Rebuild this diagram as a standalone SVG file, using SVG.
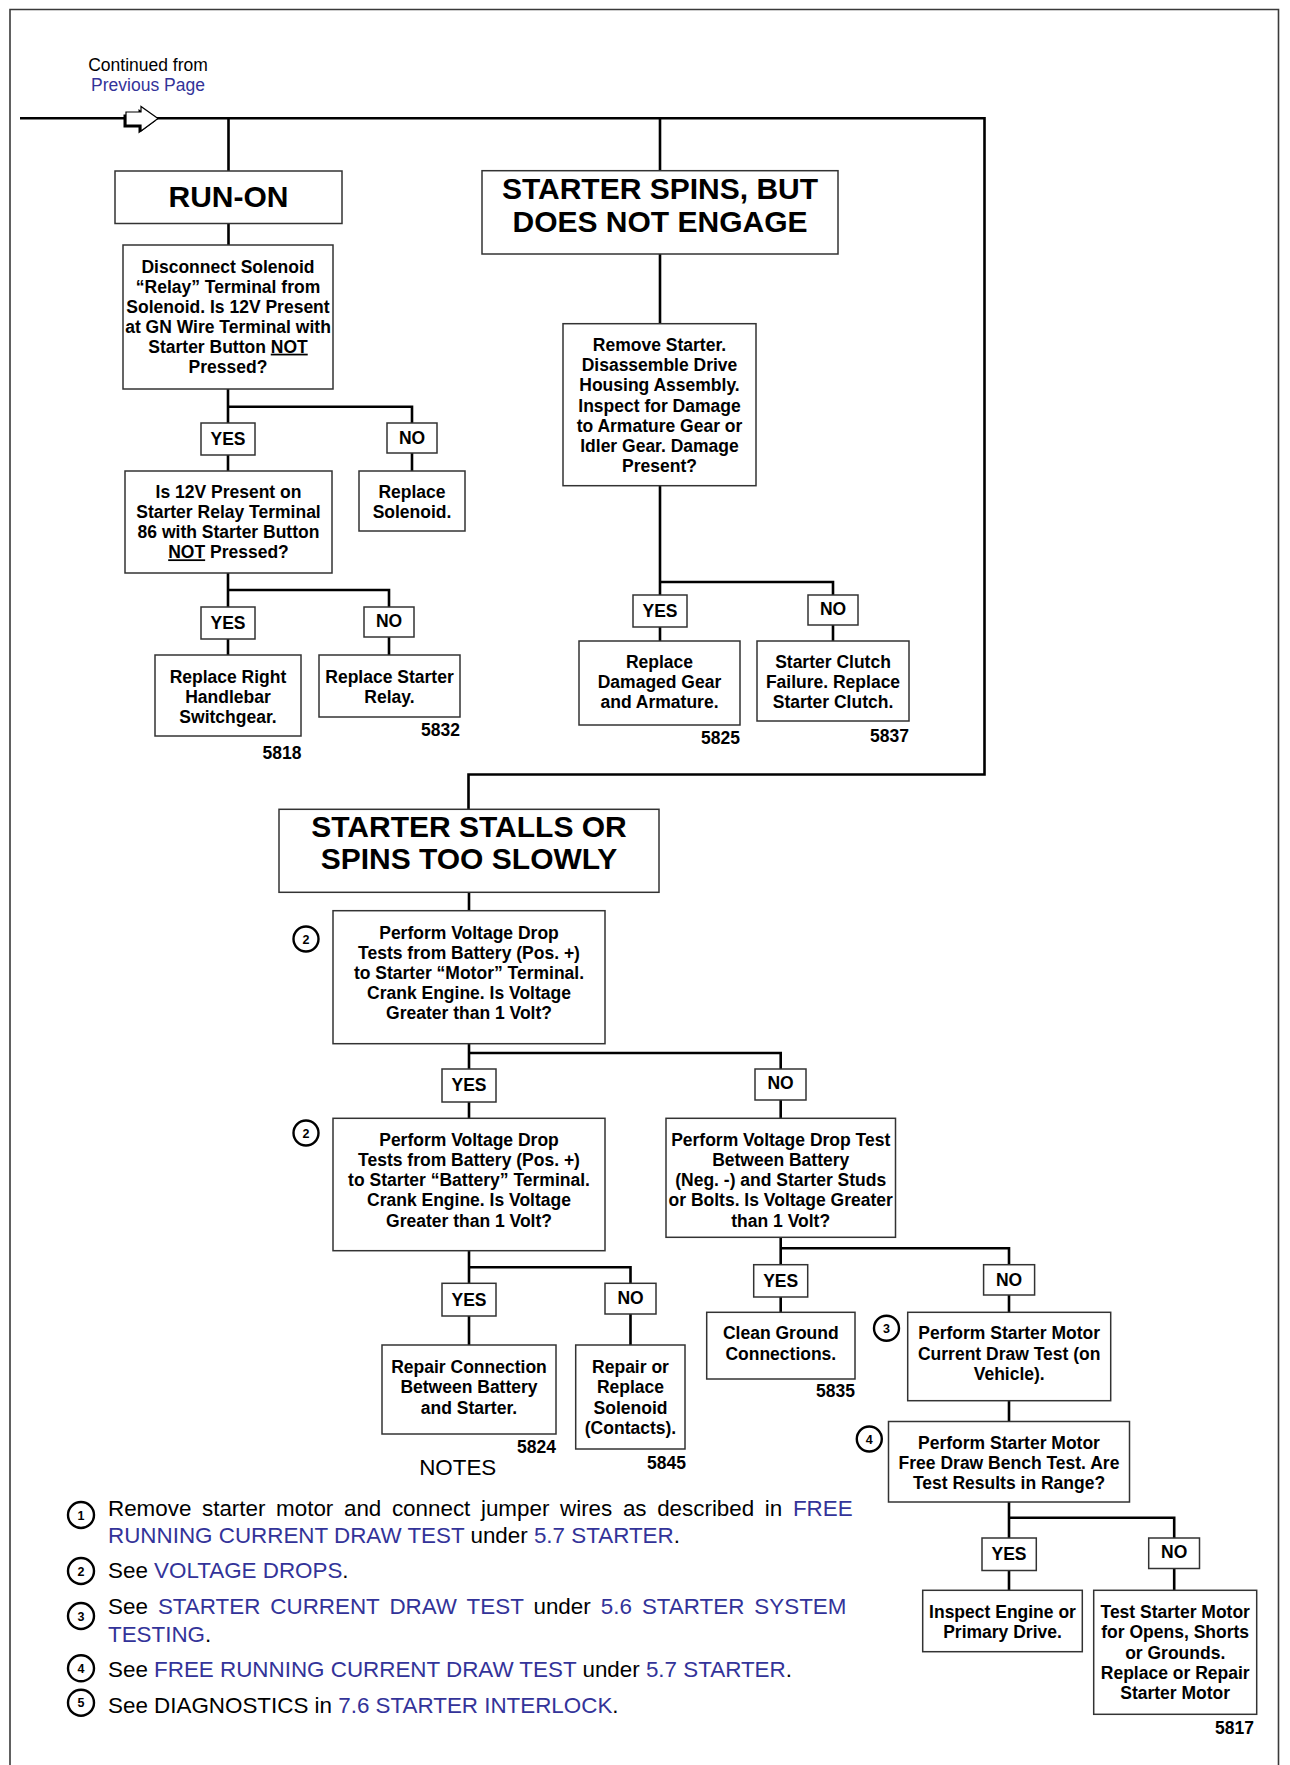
<svg xmlns="http://www.w3.org/2000/svg" width="1290" height="1765" viewBox="0 0 1290 1765">
<style>
.bg{fill:#fff}
.frame{fill:none;stroke:#3a3a3a;stroke-width:1.6}
.box{fill:#fff;stroke:#333;stroke-width:1.5}
.conn{fill:none;stroke:#000;stroke-width:2.6}
text{font-family:"Liberation Sans",Arial,Helvetica,sans-serif;fill:#000}
.t{font-weight:bold;font-size:17.5px;text-anchor:middle}
.title{font-weight:bold;font-size:30px;text-anchor:middle}
.num{font-weight:bold;font-size:17.5px;text-anchor:end}
.note{font-size:22.4px}
.link{fill:#333399}
.cont{font-size:17.5px;text-anchor:middle}
.circ{fill:#fff;stroke:#000;stroke-width:2.4}
.cn{font-weight:bold;font-size:12.5px;text-anchor:middle}
</style>
<rect class="bg" x="0" y="0" width="1290" height="1765"/>
<path class="frame" d="M10,1765 V9.5 H1278.5 V1765"/>

<g id="continued">
<text class="cont" x="148" y="71">Continued from</text>
<text class="cont link" x="148" y="90.7">Previous Page</text>
</g>

<g id="connectors">
<path class="conn" d="M20,118.3 H984.5 V774.5 H468.5 V809.3"/>
<path class="conn" d="M228.5,118.3 V171 M228.5,223.5 V245"/>
<path class="conn" d="M228,389 V423 M228,406.7 H412 V423 M228,455 V471 M412,453 V471"/>
<path class="conn" d="M228,573 V607 M228,590 H389 V607 M228,639 V655 M389,637 V655"/>
<path class="conn" d="M660,118.3 V170.7 M660,254 V323.7 M660,485.7 V595 M660,582 H833 V595 M660,627 V641 M833,625 V641"/>
<path class="conn" d="M469,892.3 V910.7 M469,1043.7 V1069 M469,1053 H780.7 V1069 M469,1102 V1118.3 M780.7,1100 V1118.3"/>
<path class="conn" d="M469,1250.7 V1283.3 M469,1267.3 H630.5 V1283.3 M469,1316 V1345 M630.5,1314 V1345"/>
<path class="conn" d="M780.7,1237.3 V1264.7 M780.7,1248.3 H1009 V1264.7 M780.7,1297 V1312.3 M1009,1295 V1312.3 M1009,1400.7 V1421.5 M1009,1502 V1538 M1009,1517.7 H1174.2 V1538 M1009,1570.5 V1590.3 M1174.2,1568.5 V1590.3"/>
</g>

<g id="arrow">
<polygon fill="#000" points="123.5,114.5 138.5,114.5 138.5,109 155.5,121 138.5,133.5 138.5,127.5 123.5,127.5"/>
<polygon fill="#fff" stroke="#000" stroke-width="1.2" points="126,112 141,112 141,106.5 158,118.5 141,131 141,125 126,125"/>
</g>

<g id="run-on">
<rect class="box" x="115" y="171" width="227" height="52.5"/>
<text class="title" x="228.5" y="207">RUN-ON</text>
</g>

<g id="disconnect">
<rect class="box" x="123" y="245" width="210" height="144"/>
<text class="t" x="228" y="272.7">Disconnect Solenoid</text>
<text class="t" x="228" y="292.7">“Relay” Terminal from</text>
<text class="t" x="228" y="312.7">Solenoid. Is 12V Present</text>
<text class="t" x="228" y="332.7">at GN Wire Terminal with</text>
<text class="t" x="228" y="352.7">Starter Button <tspan text-decoration="underline">NOT</tspan></text>
<text class="t" x="228" y="372.7">Pressed?</text>
</g>

<g id="yes-a"><rect class="box" x="201" y="423" width="54" height="32"/><text class="t" x="228" y="445">YES</text></g>
<g id="no-a"><rect class="box" x="387" y="423" width="50" height="30"/><text class="t" x="412" y="444">NO</text></g>

<g id="is12v">
<rect class="box" x="125" y="471" width="207" height="102"/>
<text class="t" x="228.5" y="498.3">Is 12V Present on</text>
<text class="t" x="228.5" y="518.3">Starter Relay Terminal</text>
<text class="t" x="228.5" y="538.3">86 with Starter Button</text>
<text class="t" x="228.5" y="558.3"><tspan text-decoration="underline">NOT</tspan> Pressed?</text>
</g>

<g id="replace-solenoid">
<rect class="box" x="359" y="471" width="106" height="60"/>
<text class="t" x="412" y="498.3">Replace</text>
<text class="t" x="412" y="518.3">Solenoid.</text>
</g>

<g id="yes-b"><rect class="box" x="201" y="607" width="54" height="32"/><text class="t" x="228" y="628.5">YES</text></g>
<g id="no-b"><rect class="box" x="364" y="607" width="50" height="30"/><text class="t" x="389" y="627">NO</text></g>

<g id="replace-right">
<rect class="box" x="155" y="655" width="146" height="81"/>
<text class="t" x="228" y="683.3">Replace Right</text>
<text class="t" x="228" y="703.3">Handlebar</text>
<text class="t" x="228" y="723.3">Switchgear.</text>
<text class="num" x="301.5" y="759">5818</text>
</g>

<g id="replace-relay">
<rect class="box" x="319" y="655" width="141" height="62"/>
<text class="t" x="389.5" y="683.3">Replace Starter</text>
<text class="t" x="389.5" y="703.3">Relay.</text>
<text class="num" x="460" y="736">5832</text>
</g>

<g id="spins">
<rect class="box" x="482" y="170.7" width="356" height="83.3"/>
<text class="title" x="660" y="199">STARTER SPINS, BUT</text>
<text class="title" x="660" y="231.7">DOES NOT ENGAGE</text>
</g>

<g id="remove-starter">
<rect class="box" x="563" y="323.7" width="193" height="162"/>
<text class="t" x="659.5" y="351">Remove Starter.</text>
<text class="t" x="659.5" y="371.2">Disassemble Drive</text>
<text class="t" x="659.5" y="391.3">Housing Assembly.</text>
<text class="t" x="659.5" y="411.5">Inspect for Damage</text>
<text class="t" x="659.5" y="431.6">to Armature Gear or</text>
<text class="t" x="659.5" y="451.8">Idler Gear. Damage</text>
<text class="t" x="659.5" y="471.9">Present?</text>
</g>

<g id="yes-c"><rect class="box" x="633" y="595" width="54" height="32"/><text class="t" x="660" y="617">YES</text></g>
<g id="no-c"><rect class="box" x="808" y="595" width="50" height="30"/><text class="t" x="833" y="615">NO</text></g>

<g id="replace-gear">
<rect class="box" x="579" y="641" width="161" height="84"/>
<text class="t" x="659.5" y="668">Replace</text>
<text class="t" x="659.5" y="688">Damaged Gear</text>
<text class="t" x="659.5" y="708">and Armature.</text>
<text class="num" x="740" y="744">5825</text>
</g>

<g id="clutch">
<rect class="box" x="757" y="641" width="152" height="80"/>
<text class="t" x="833" y="668">Starter Clutch</text>
<text class="t" x="833" y="688">Failure. Replace</text>
<text class="t" x="833" y="708">Starter Clutch.</text>
<text class="num" x="909" y="742">5837</text>
</g>

<g id="stalls">
<rect class="box" x="279" y="809.3" width="380" height="83"/>
<text class="title" x="469" y="836.7">STARTER STALLS OR</text>
<text class="title" x="469" y="869.3">SPINS TOO SLOWLY</text>
</g>

<g id="vd-motor">
<circle class="circ" cx="306" cy="939" r="12.5"/>
<text class="cn" x="306" y="943.5">2</text>
<rect class="box" x="333" y="910.7" width="272" height="133"/>
<text class="t" x="469" y="938.5">Perform Voltage Drop</text>
<text class="t" x="469" y="958.7">Tests from Battery (Pos. +)</text>
<text class="t" x="469" y="978.9">to Starter “Motor” Terminal.</text>
<text class="t" x="469" y="999.1">Crank Engine. Is Voltage</text>
<text class="t" x="469" y="1019.3">Greater than 1 Volt?</text>
</g>

<g id="yes-d"><rect class="box" x="442" y="1069" width="54" height="33"/><text class="t" x="469" y="1090.7">YES</text></g>
<g id="no-d"><rect class="box" x="755" y="1069" width="51" height="31"/><text class="t" x="780.5" y="1089">NO</text></g>

<g id="vd-battery">
<circle class="circ" cx="306" cy="1133" r="12.5"/>
<text class="cn" x="306" y="1137.5">2</text>
<rect class="box" x="333" y="1118.3" width="272" height="132.4"/>
<text class="t" x="469" y="1145.7">Perform Voltage Drop</text>
<text class="t" x="469" y="1165.9">Tests from Battery (Pos. +)</text>
<text class="t" x="469" y="1186.1">to Starter “Battery” Terminal.</text>
<text class="t" x="469" y="1206.3">Crank Engine. Is Voltage</text>
<text class="t" x="469" y="1226.5">Greater than 1 Volt?</text>
</g>

<g id="vd-ground">
<rect class="box" x="666" y="1118.3" width="229.5" height="119"/>
<text class="t" x="780.7" y="1145.7">Perform Voltage Drop Test</text>
<text class="t" x="780.7" y="1165.9">Between Battery</text>
<text class="t" x="780.7" y="1186.1">(Neg. -) and Starter Studs</text>
<text class="t" x="780.7" y="1206.3">or Bolts. Is Voltage Greater</text>
<text class="t" x="780.7" y="1226.5">than 1 Volt?</text>
</g>

<g id="yes-e"><rect class="box" x="442" y="1283.3" width="54" height="32.7"/><text class="t" x="469" y="1306">YES</text></g>
<g id="no-e"><rect class="box" x="605" y="1283.3" width="51" height="30.7"/><text class="t" x="630.5" y="1304">NO</text></g>

<g id="repair-connection">
<rect class="box" x="382" y="1345" width="174" height="89"/>
<text class="t" x="469" y="1372.5">Repair Connection</text>
<text class="t" x="469" y="1393">Between Battery</text>
<text class="t" x="469" y="1413.5">and Starter.</text>
<text class="num" x="556" y="1452.7">5824</text>
</g>

<g id="repair-solenoid">
<rect class="box" x="575.7" y="1345" width="109.3" height="104"/>
<text class="t" x="630.5" y="1372.5">Repair or</text>
<text class="t" x="630.5" y="1393">Replace</text>
<text class="t" x="630.5" y="1413.5">Solenoid</text>
<text class="t" x="630.5" y="1433.5">(Contacts).</text>
<text class="num" x="686" y="1469">5845</text>
</g>

<g id="yes-f"><rect class="box" x="753.7" y="1264.7" width="54" height="32.3"/><text class="t" x="780.7" y="1286.5">YES</text></g>
<g id="no-f"><rect class="box" x="983.6" y="1264.7" width="51" height="30.3"/><text class="t" x="1009" y="1285.5">NO</text></g>

<g id="clean-ground">
<rect class="box" x="706.7" y="1312.3" width="148.3" height="66.7"/>
<text class="t" x="780.8" y="1339.3">Clean Ground</text>
<text class="t" x="780.8" y="1360">Connections.</text>
<text class="num" x="855" y="1397.3">5835</text>
</g>

<g id="current-draw">
<circle class="circ" cx="886.5" cy="1328.3" r="12.5"/>
<text class="cn" x="886.5" y="1332.8">3</text>
<rect class="box" x="907.7" y="1312.3" width="203" height="88.4"/>
<text class="t" x="1009.2" y="1339.3">Perform Starter Motor</text>
<text class="t" x="1009.2" y="1360">Current Draw Test (on</text>
<text class="t" x="1009.2" y="1380">Vehicle).</text>
</g>

<g id="free-draw">
<circle class="circ" cx="869.3" cy="1439" r="12.5"/>
<text class="cn" x="869.3" y="1443.5">4</text>
<rect class="box" x="888.5" y="1421.5" width="241" height="80.5"/>
<text class="t" x="1009" y="1449">Perform Starter Motor</text>
<text class="t" x="1009" y="1469.3">Free Draw Bench Test. Are</text>
<text class="t" x="1009" y="1489">Test Results in Range?</text>
</g>

<g id="yes-g"><rect class="box" x="982" y="1538" width="54.3" height="32.5"/><text class="t" x="1009" y="1560">YES</text></g>
<g id="no-g"><rect class="box" x="1148.7" y="1538" width="50.8" height="30.5"/><text class="t" x="1174.2" y="1558.3">NO</text></g>

<g id="inspect-engine">
<rect class="box" x="922.7" y="1590.3" width="159.6" height="61.4"/>
<text class="t" x="1002.5" y="1618.3">Inspect Engine or</text>
<text class="t" x="1002.5" y="1638.3">Primary Drive.</text>
</g>

<g id="test-motor">
<rect class="box" x="1093.7" y="1590.3" width="163" height="124"/>
<text class="t" x="1175.2" y="1618.3">Test Starter Motor</text>
<text class="t" x="1175.2" y="1638.3">for Opens, Shorts</text>
<text class="t" x="1175.2" y="1658.5">or Grounds.</text>
<text class="t" x="1175.2" y="1679">Replace or Repair</text>
<text class="t" x="1175.2" y="1699">Starter Motor</text>
<text class="num" x="1254" y="1734.3">5817</text>
</g>

<g id="notes">
<text class="note" x="457.7" y="1475" text-anchor="middle">NOTES</text>
<circle class="circ" cx="81" cy="1515" r="13"/><text class="cn" x="81" y="1519.5">1</text>
<text class="note" x="108" y="1515.7" word-spacing="4.4">Remove starter motor and connect jumper wires as described in <tspan class="link">FREE</tspan></text>
<text class="note" x="108" y="1543.3"><tspan class="link">RUNNING CURRENT DRAW TEST</tspan> under <tspan class="link">5.7 STARTER</tspan>.</text>
<circle class="circ" cx="81" cy="1571" r="13"/><text class="cn" x="81" y="1575.5">2</text>
<text class="note" x="108" y="1578.3">See <tspan class="link">VOLTAGE DROPS</tspan>.</text>
<circle class="circ" cx="81" cy="1616" r="13"/><text class="cn" x="81" y="1620.5">3</text>
<text class="note" x="108" y="1614.3" word-spacing="3.8">See <tspan class="link">STARTER CURRENT DRAW TEST</tspan> under <tspan class="link">5.6 STARTER SYSTEM</tspan></text>
<text class="note" x="108" y="1641.7"><tspan class="link">TESTING</tspan>.</text>
<circle class="circ" cx="81" cy="1668.3" r="13"/><text class="cn" x="81" y="1672.8">4</text>
<text class="note" x="108" y="1676.7">See <tspan class="link">FREE RUNNING CURRENT DRAW TEST</tspan> under <tspan class="link">5.7 STARTER</tspan>.</text>
<circle class="circ" cx="81" cy="1702.7" r="13"/><text class="cn" x="81" y="1707.2">5</text>
<text class="note" x="108" y="1713.3">See DIAGNOSTICS in <tspan class="link">7.6 STARTER INTERLOCK</tspan>.</text>
</g>
</svg>
